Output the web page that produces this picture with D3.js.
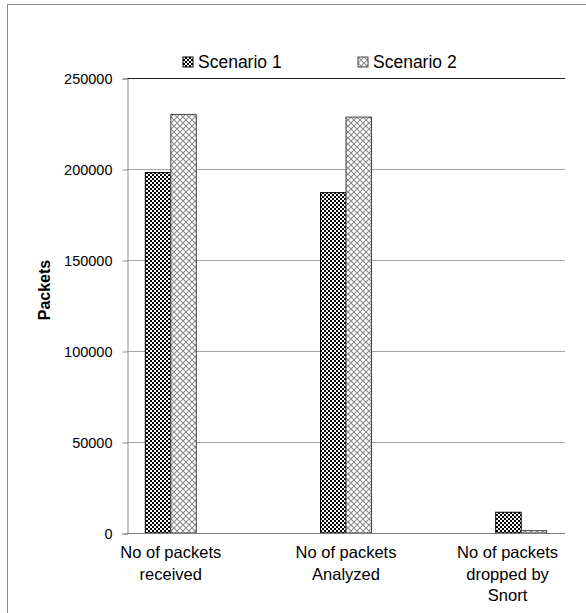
<!DOCTYPE html>
<html>
<head>
<meta charset="utf-8">
<script src="https://cdn.jsdelivr.net/npm/d3@7"></script>
<style>
  body { margin: 0; background: #fff; }
  svg text { font-family: "Liberation Sans", Arial, sans-serif; fill: #000; }
</style>
</head>
<body>
<div id="chart"></div>
<script>
// data
var categories = [["No of packets", "received"], ["No of packets", "Analyzed"], ["No of packets", "dropped by", "Snort"]];
var seriesNames = ["Scenario 1", "Scenario 2"];
var scenario1 = [198000, 187000, 11400];
var scenario2 = [230000, 228500, 1300];
var yTicks = [0, 50000, 100000, 150000, 200000, 250000];

var width = 586, height = 613;
var plot = {left: 127, right: 565, top: 78, bottom: 533};

var svg = d3.select("#chart")
    .append("svg")
    .attr("width", width)
    .attr("height", height);

// patterns for the two series
var defs = svg.append("defs");
var checker = defs.append("pattern")
    .attr("id", "pat1")
    .attr("patternUnits", "userSpaceOnUse")
    .attr("width", 4).attr("height", 4);
checker.append("rect").attr("width", 4).attr("height", 4).attr("fill", "#000");
checker.append("rect").attr("x", 0).attr("y", 0).attr("width", 2).attr("height", 2).attr("fill", "#fff");
checker.append("rect").attr("x", 2).attr("y", 2).attr("width", 2).attr("height", 2).attr("fill", "#fff");

var diamond = defs.append("pattern")
    .attr("id", "pat2")
    .attr("patternUnits", "userSpaceOnUse")
    .attr("width", 6).attr("height", 6);
diamond.append("rect").attr("width", 6).attr("height", 6).attr("fill", "#fff");
diamond.append("path")
    .attr("d", "M0,0 L6,6 M6,0 L0,6 M-3,3 L3,-3 M3,9 L9,3 M-3,3 L3,9 M3,-3 L9,3")
    .attr("stroke", "#8a8a8a")
    .attr("stroke-width", 1.1);

var fills = ["url(#pat1)", "url(#pat2)"];
var strokes = ["#000", "#444"];

// outer chart frame (runs past the right and bottom edges)
svg.append("rect")
    .attr("x", 7.5).attr("y", 4.5)
    .attr("width", 620).attr("height", 640)
    .attr("fill", "none")
    .attr("stroke", "#8c8c8c");

var y = d3.scaleLinear().domain([0, 250000]).range([plot.bottom, plot.top]);
var x = d3.scalePoint().domain(d3.range(categories.length)).range([plot.left, plot.right]).padding(0.25);
var xs = d3.scaleBand().domain(seriesNames).range([-25.5, 25.5]);

// gridlines
svg.append("g")
    .selectAll("line")
    .data(yTicks.filter(function(d) { return d > 0; }))
    .enter()
    .append("line")
    .attr("x1", plot.left).attr("x2", plot.right)
    .attr("y1", function(d) { return Math.round(y(d)) + 0.5; })
    .attr("y2", function(d) { return Math.round(y(d)) + 0.5; })
    .attr("stroke", function(d) { return d === 250000 ? "#222" : "#a6a6a6"; })
    .attr("stroke-width", 1);

// y axis
var yAxis = svg.append("g")
    .attr("transform", "translate(" + (plot.left + 0.5) + ",0.5)")
    .call(d3.axisLeft(y).tickValues(yTicks).tickSize(5).tickPadding(10).tickFormat(d3.format("d")));
yAxis.select(".domain").attr("stroke", "#8c8c8c");
yAxis.selectAll(".tick line").attr("stroke", "#8c8c8c");
yAxis.selectAll(".tick text")
    .attr("font-size", "14.5px")
    .attr("font-family", "Liberation Sans, Arial, sans-serif")
    .attr("fill", "#000");

svg.append("text")
    .attr("transform", "translate(50,290) rotate(-90)")
    .attr("text-anchor", "middle")
    .attr("font-size", "16px")
    .attr("font-weight", "bold")
    .text("Packets");

// bars
var allSeries = [scenario1, scenario2];
allSeries.forEach(function(vals, si) {
    svg.append("g")
        .selectAll("rect")
        .data(vals)
        .enter()
        .append("rect")
        .attr("x", function(d, i) { return x(i) + xs(seriesNames[si]); })
        .attr("y", function(d) { return y(d); })
        .attr("width", xs.bandwidth())
        .attr("height", function(d) { return y(0) - y(d); })
        .attr("fill", fills[si])
        .attr("stroke", strokes[si])
        .attr("stroke-width", 1);
});

// baseline
svg.append("line")
    .attr("x1", plot.left).attr("x2", plot.right)
    .attr("y1", y(0) + 0.5).attr("y2", y(0) + 0.5)
    .attr("stroke", "#7f7f7f");

// category labels
var catLabels = svg.append("g")
    .selectAll("text")
    .data(categories)
    .enter()
    .append("text")
    .attr("text-anchor", "middle")
    .attr("font-size", "16.5px")
    .attr("x", function(d, i) { return x(i); })
    .attr("y", 558);
catLabels.each(function(lines, i) {
    var t = d3.select(this);
    lines.forEach(function(line, li) {
        t.append("tspan")
            .attr("x", x(i))
            .attr("dy", li === 0 ? 0 : 21.5)
            .text(line);
    });
    // keep the label inside the chart, as the original does
    var bb = this.getBBox();
    var over = bb.x + bb.width - 558;
    if (over > 0) {
        t.selectAll("tspan").attr("x", x(i) - over);
    }
});

// legend
var legendX = [183, 358];
var legend = svg.append("g")
    .selectAll("g")
    .data(seriesNames)
    .enter()
    .append("g")
    .attr("transform", function(d, i) { return "translate(" + legendX[i] + ",57)"; });
legend.append("rect")
    .attr("width", 10).attr("height", 10)
    .attr("fill", function(d, i) { return fills[i]; })
    .attr("stroke", function(d, i) { return strokes[i]; });
legend.append("text")
    .attr("x", 15)
    .attr("y", 11)
    .attr("font-size", "17.5px")
    .text(function(d) { return d; });
</script>
</body>
</html>
